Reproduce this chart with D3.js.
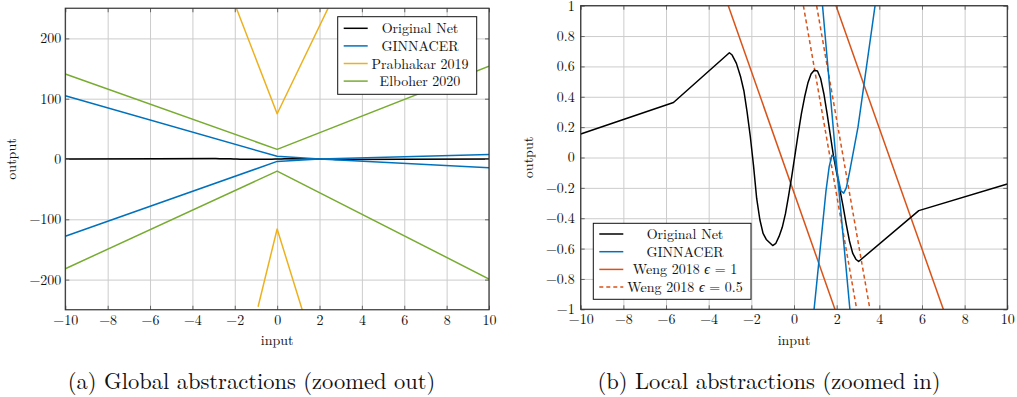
<!DOCTYPE html>
<html>
<head>
<meta charset="utf-8">
<script src="https://cdn.jsdelivr.net/npm/d3@7"></script>
<style>
  body { margin: 0; background: #fff; }
</style>
</head>
<body>
<svg id="fig" width="1017" height="397" font-family="'Latin Modern Roman', 'CMU Serif', 'Liberation Serif', serif"></svg>
<script>
const FONT = "'Latin Modern Roman', 'CMU Serif', 'Liberation Serif', serif";

const xTicks = [-10, -8, -6, -4, -2, 0, 2, 4, 6, 8, 10];
const globalYTicks = [-200, -100, 0, 100, 200];
const localYTicks = [-1, -0.8, -0.6, -0.4, -0.2, 0, 0.2, 0.4, 0.6, 0.8, 1];

// the original network
const originalNet = [
  [-10, 0.155], [-5.65, 0.362], [-3.03, 0.69], [-2.9, 0.675], [-2.7, 0.62],
  [-2.5, 0.53], [-2.35, 0.44], [-2.2, 0.3], [-2.05, 0.14], [-1.9, -0.05],
  [-1.75, -0.27], [-1.6, -0.41], [-1.45, -0.5], [-1.3, -0.54], [-1.15, -0.56],
  [-1.0, -0.58], [-0.85, -0.565], [-0.7, -0.52], [-0.55, -0.46], [-0.4, -0.37],
  [-0.25, -0.25], [-0.1, -0.12], [0.05, 0.02], [0.2, 0.16], [0.35, 0.29],
  [0.5, 0.4], [0.65, 0.49], [0.8, 0.55], [0.95, 0.575], [1.1, 0.57],
  [1.25, 0.52], [1.4, 0.42], [1.55, 0.29], [1.7, 0.15], [1.85, 0.01],
  [2.0, -0.1], [2.15, -0.21], [2.3, -0.32], [2.45, -0.44], [2.6, -0.55],
  [2.75, -0.63], [2.9, -0.67], [3.03, -0.685], [5.85, -0.35], [10, -0.175]
];

// (a) global abstractions
const ginGlobalUpper = [[-10, 105], [0, 4.5], [2, 0], [10, -14.5]];
const ginGlobalLower = [[-10, -128], [0, -4], [2, 0], [10, 7.5]];
const prabhakarUpper = [[-2, 257], [0, 75], [2.5, 257]];
const prabhakarLower = [[-0.9, -245], [0, -116], [1.2, -252]];
const elboherUpper = [[-10, 141], [0, 16], [10, 154]];
const elboherLower = [[-10, -182], [0, -20], [10, -199]];

// (b) local abstractions
const ginLocalUpper = [[1.3, 1.06], [1.93, 0.05], [2.62, -1.0], [2.65, -1.05]];
const ginLocalLower = [
  [0.92, -1.03], [1.1, -0.78], [1.3, -0.5], [1.5, -0.22], [1.65, -0.06],
  [1.78, 0.015], [1.9, 0.0], [2.05, -0.12], [2.2, -0.22], [2.33, -0.235],
  [2.45, -0.2], [2.6, -0.1], [2.8, 0.05], [3.0, 0.2], [3.2, 0.4],
  [3.4, 0.6], [3.6, 0.8], [3.8, 1.0], [3.85, 1.05]
];
const weng1Left = [[-3.08, 1], [1.92, -1]];
const weng1Right = [[1.97, 1], [7.0, -1]];
const weng05Left = [[0.44, 1], [2.94, -1]];
const weng05Right = [[1.06, 1], [3.56, -1]];

const black = "#000000", blue = "#0072BD", yellow = "#EDB120",
      green = "#77AC30", orange = "#D95319";

const svg = d3.select("#fig");

function drawPanel(cfg) {
  const x = d3.scaleLinear().domain([-10, 10]).range([cfg.left, cfg.right]);
  const y = d3.scaleLinear().domain(cfg.yDomain).range([cfg.bottom, cfg.top]);
  const w = cfg.right - cfg.left, h = cfg.bottom - cfg.top;
  const g = svg.append("g");

  // grid
  g.append("g").attr("transform", `translate(0,${cfg.bottom})`)
    .call(d3.axisBottom(x).tickValues(xTicks).tickSize(-h).tickFormat(""))
    .call(a => a.select(".domain").remove())
    .selectAll("line").attr("stroke", "#cccccc").attr("stroke-width", 1);
  g.append("g").attr("transform", `translate(${cfg.left},0)`)
    .call(d3.axisLeft(y).tickValues(cfg.yTicks).tickSize(-w).tickFormat(""))
    .call(a => a.select(".domain").remove())
    .selectAll("line").attr("stroke", "#cccccc").attr("stroke-width", 1);

  // series
  const clipId = "clip" + cfg.id;
  g.append("clipPath").attr("id", clipId).append("rect")
    .attr("x", cfg.left).attr("y", cfg.top).attr("width", w).attr("height", h);
  const line = d3.line().x(d => x(d[0])).y(d => y(d[1]));
  const plot = g.append("g").attr("clip-path", `url(#${clipId})`);
  cfg.series.forEach(s => {
    plot.append("path").datum(s.data)
      .attr("fill", "none")
      .attr("stroke", s.color)
      .attr("stroke-width", 1.5)
      .attr("stroke-linejoin", "round")
      .attr("stroke-dasharray", s.dash ? "4,3" : null)
      .attr("d", line);
  });

  // inner tick marks on all four sides
  const tickStyle = a => {
    a.select(".domain").remove();
    a.selectAll("line").attr("stroke", "#666").attr("stroke-width", 1);
  };
  g.append("g").attr("transform", `translate(0,${cfg.bottom})`)
    .call(d3.axisBottom(x).tickValues(xTicks).tickSize(-4).tickFormat("")).call(tickStyle);
  g.append("g").attr("transform", `translate(0,${cfg.top})`)
    .call(d3.axisTop(x).tickValues(xTicks).tickSize(-4).tickFormat("")).call(tickStyle);
  g.append("g").attr("transform", `translate(${cfg.left},0)`)
    .call(d3.axisLeft(y).tickValues(cfg.yTicks).tickSize(-4).tickFormat("")).call(tickStyle);
  g.append("g").attr("transform", `translate(${cfg.right},0)`)
    .call(d3.axisRight(y).tickValues(cfg.yTicks).tickSize(-4).tickFormat("")).call(tickStyle);

  // box
  g.append("rect").attr("x", cfg.left).attr("y", cfg.top)
    .attr("width", w).attr("height", h)
    .attr("fill", "none").attr("stroke", "#333").attr("stroke-width", 1.2);

  // tick labels
  const labelStyle = a => {
    a.attr("font-family", FONT).attr("font-size", 14);
    a.select(".domain").remove();
    a.selectAll("text").attr("fill", "#111");
  };
  g.append("g").attr("transform", `translate(0,${cfg.bottom})`)
    .call(d3.axisBottom(x).tickValues(xTicks).tickSize(0).tickPadding(5)).call(labelStyle);
  g.append("g").attr("transform", `translate(${cfg.left},0)`)
    .call(d3.axisLeft(y).tickValues(cfg.yTicks).tickSize(0).tickPadding(cfg.yPad)
      .tickFormat(d3.format("~g"))).call(labelStyle);

  // axis titles
  g.append("text").attr("x", (cfg.left + cfg.right) / 2).attr("y", 345)
    .attr("text-anchor", "middle").attr("font-size", 14).attr("fill", "#111").text("input");
  g.append("text")
    .attr("transform", `translate(${cfg.titleX},${(cfg.top + cfg.bottom) / 2}) rotate(-90)`)
    .attr("text-anchor", "middle").attr("font-size", 14).attr("fill", "#111").text("output");

  // legend
  const L = cfg.legend;
  const lg = g.append("g");
  lg.append("rect").attr("x", L.x).attr("y", L.y).attr("width", L.w).attr("height", L.h)
    .attr("fill", "#fff").attr("stroke", "#111").attr("stroke-width", 1);
  L.items.forEach((it, i) => {
    const yy = L.y + L.first + i * L.step;
    lg.append("line").attr("x1", L.x + 6).attr("x2", L.x + 30)
      .attr("y1", yy).attr("y2", yy)
      .attr("stroke", it.color).attr("stroke-width", 1.5)
      .attr("stroke-dasharray", it.dash ? "4,3" : null);
    const t = lg.append("text").attr("x", L.textX).attr("y", yy + 5)
      .attr("text-anchor", "middle").attr("font-size", 14).attr("fill", "#111");
    const parts = it.label.split("ϵ");
    t.append("tspan").text(parts[0]);
    if (parts.length > 1) {
      t.append("tspan").attr("font-style", "italic").text("ϵ");
      t.append("tspan").text(parts[1]);
    }
  });

  // caption
  svg.append("text").attr("x", cfg.captionX).attr("y", 389)
    .attr("text-anchor", "middle").attr("font-size", 22.5).attr("fill", "#111").text(cfg.caption);
}

drawPanel({
  id: "a", left: 65.3, right: 489, top: 8.25, bottom: 309.75,
  yDomain: [-250, 250], yTicks: globalYTicks, yPad: 4, titleX: 16,
  series: [
    { data: elboherUpper, color: green }, { data: elboherLower, color: green },
    { data: prabhakarUpper, color: yellow }, { data: prabhakarLower, color: yellow },
    { data: originalNet, color: black },
    { data: ginGlobalUpper, color: blue }, { data: ginGlobalLower, color: blue }
  ],
  legend: {
    x: 337.7, y: 16.7, w: 139, h: 77.6, first: 11.6, step: 17.6, textX: 420,
    items: [
      { label: "Original Net", color: black },
      { label: "GINNACER", color: blue },
      { label: "Prabhakar 2019", color: yellow },
      { label: "Elboher 2020", color: green }
    ]
  },
  caption: "(a) Global abstractions (zoomed out)", captionX: 251.5
});

drawPanel({
  id: "b", left: 580.7, right: 1007.3, top: 5.7, bottom: 309.3,
  yDomain: [-1, 1], yTicks: localYTicks, yPad: 6, titleX: 533,
  series: [
    { data: weng1Left, color: orange }, { data: weng1Right, color: orange },
    { data: weng05Left, color: orange, dash: true }, { data: weng05Right, color: orange, dash: true },
    { data: originalNet, color: black },
    { data: ginLocalUpper, color: blue }, { data: ginLocalLower, color: blue }
  ],
  legend: {
    x: 593.3, y: 223.3, w: 157.7, h: 76, first: 10.7, step: 17.7, textX: 685,
    items: [
      { label: "Original Net", color: black },
      { label: "GINNACER", color: blue },
      { label: "Weng 2018 ϵ = 1", color: orange },
      { label: "Weng 2018 ϵ = 0.5", color: orange, dash: true }
    ]
  },
  caption: "(b) Local abstractions (zoomed in)", captionX: 769
});
</script>
</body>
</html>
